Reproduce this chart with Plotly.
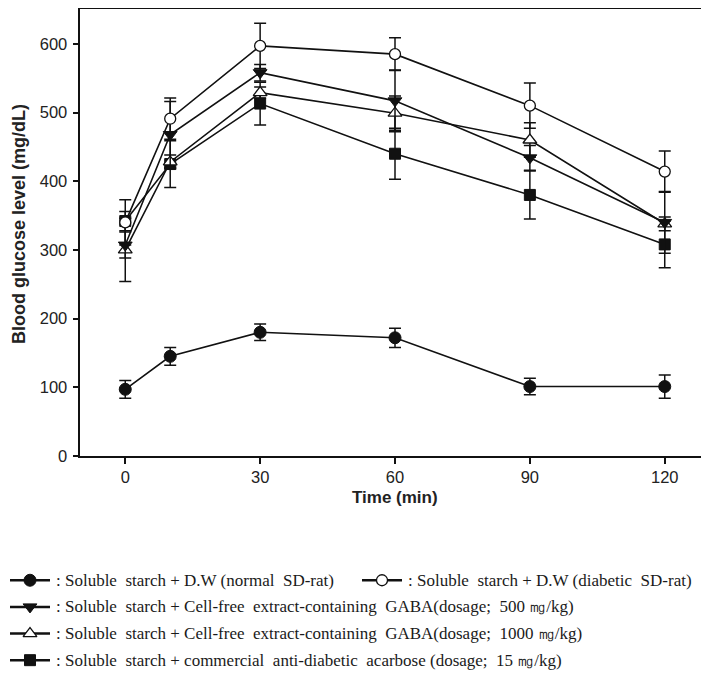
import plotly.graph_objects as go

# ---------------- data ----------------
times = [0, 10, 30, 60, 90, 120]

normal = [97, 145, 180, 172, 101, 101]
normal_err = [13, 13, 12, 14, 12, 17]

diabetic = [340, 491, 597, 585, 510, 414]
diabetic_err = [33, 30, 33, 24, 33, 30]

gaba500 = [307, 468, 558, 517, 434, 340]
gaba500_err = [19, 48, 12, 45, 18, 45]

gaba1000 = [300, 428, 529, 499, 460, 338]
gaba1000_err = [46, 10, 8, 25, 25, 10]

acarbose = [342, 425, 513, 440, 380, 308]
acarbose_err = [14, 34, 31, 37, 35, 34]

x_ticks = [0, 30, 60, 90, 120]
y_ticks = [0, 100, 200, 300, 400, 500, 600]

S = "\u00a0 "  # wider word gap as in the reference
legend_labels = [
    f": Soluble{S}starch + D.W (normal{S}SD-rat)",
    f": Soluble{S}starch + D.W (diabetic{S}SD-rat)",
    f": Soluble{S}starch + Cell-free{S}extract-containing{S}GABA(dosage;{S}500 \u338e/kg)",
    f": Soluble{S}starch + Cell-free{S}extract-containing{S}GABA(dosage;{S}1000 \u338e/kg)",
    f": Soluble{S}starch + commercial{S}anti-diabetic{S}acarbose (dosage;{S}15 \u338e/kg)",
]

# ---------------- styles ----------------
W, H = 709, 673
INK = "#111111"
series = [
    (normal, normal_err, dict(symbol="circle", size=12, color=INK, line=dict(color=INK, width=1))),
    (diabetic, diabetic_err, dict(symbol="circle", size=11, color="white", line=dict(color=INK, width=1.3))),
    (gaba500, gaba500_err, dict(symbol="triangle-down", size=12, color=INK, line=dict(color=INK, width=1))),
    (gaba1000, gaba1000_err, dict(symbol="triangle-up", size=12, color="white", line=dict(color=INK, width=1.3))),
    (acarbose, acarbose_err, dict(symbol="square", size=11, color=INK, line=dict(color=INK, width=1))),
]

fig = go.Figure()
draw_order = [4, 3, 2, 1, 0]
for i in draw_order:
    vals, errs, mk = series[i]
    fig.add_trace(go.Scatter(
        x=times, y=vals, mode="lines+markers",
        line=dict(color=INK, width=1.6),
        marker=mk,
        error_y=dict(type="data", array=errs, visible=True, color=INK, thickness=1.5, width=6),
        showlegend=False, xaxis="x", yaxis="y",
    ))

# ---------------- custom legend (drawn in a pixel-unit axes) ----------------
legend_rows = [580, 580, 607, 634, 661]
legend_sym_x = [2, 354, 2, 2, 2]
SYM_LEN = 40
for i, (vals, errs, mk) in enumerate(series):
    x0 = legend_sym_x[i]
    row = legend_rows[i]
    fig.add_trace(go.Scatter(
        x=[x0, x0 + SYM_LEN], y=[row, row], mode="lines",
        line=dict(color=INK, width=2.5), showlegend=False,
        xaxis="x2", yaxis="y2", hoverinfo="skip",
    ))
    fig.add_trace(go.Scatter(
        x=[x0 + SYM_LEN / 2], y=[row], mode="markers", marker=mk, showlegend=False,
        xaxis="x2", yaxis="y2", hoverinfo="skip",
    ))
    fig.add_annotation(
        x=x0 + SYM_LEN + 4, y=row, xref="x2", yref="y2", text=legend_labels[i],
        showarrow=False, xanchor="left", yanchor="middle",
        font=dict(family="Liberation Serif, Times New Roman, serif", size=17, color="#1a1a1a"),
    )

# ---------------- layout ----------------
def px_x(p):
    return p / W

def px_y(p):
    # margin t=1, b=0 -> plot height = H-1
    return (H - p) / (H - 1)

left_px, right_px, top_px, bottom_px = 72.3, 701.7, 1.5, 454

axis_font = dict(family="Liberation Sans, Arial, sans-serif", size=16.5, color="#222222")

fig.update_layout(
    width=W, height=H,
    margin=dict(l=0, r=0, t=1, b=0),
    paper_bgcolor="white", plot_bgcolor="white",
    xaxis=dict(
        domain=[px_x(left_px), px_x(right_px)], range=[-10, 130],
        tickvals=x_ticks, ticks="outside", ticklen=6, tickwidth=1.5, tickcolor=INK,
        showline=True, linecolor=INK, linewidth=1.5, mirror=True,
        showgrid=False, zeroline=False, tickfont=axis_font, ticklabelstandoff=0,
        anchor="y",
    ),
    yaxis=dict(
        domain=[px_y(bottom_px), px_y(top_px)], range=[0, 650],
        tickvals=y_ticks, ticks="outside", ticklen=6, tickwidth=1.5, tickcolor=INK,
        showline=True, linecolor=INK, linewidth=1.5, mirror="ticks",
        showgrid=False, zeroline=False, tickfont=axis_font, ticklabelstandoff=2,
        anchor="x",
    ),
    xaxis2=dict(domain=[0, 1], range=[0, W], visible=False, anchor="y2", fixedrange=True),
    yaxis2=dict(domain=[0, px_y(553)], range=[H, 553], visible=False, anchor="x2", fixedrange=True),
    annotations=list(fig.layout.annotations) + [
        dict(text="<b>Time (min)</b>", x=px_x((left_px + right_px) / 2), y=px_y(496),
             xref="paper", yref="paper", showarrow=False, xanchor="center", yanchor="middle",
             font=dict(family="Liberation Sans, Arial, sans-serif", size=17, color="#222222")),
        dict(text="<b>Blood glucose level (mg/dL)</b>", x=px_x(11), y=px_y(219),
             xref="paper", yref="paper", showarrow=False, textangle=-90,
             xanchor="center", yanchor="middle",
             font=dict(family="Liberation Sans, Arial, sans-serif", size=18, color="#222222")),
    ],
)

fig.write_html("out.html")
